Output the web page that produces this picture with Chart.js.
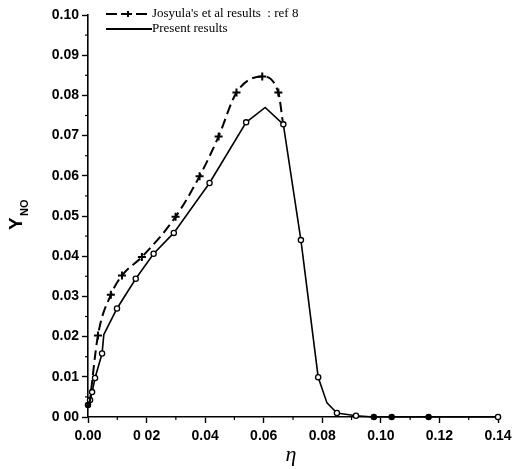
<!DOCTYPE html>
<html>
<head>
<meta charset="utf-8">
<script src="https://cdn.jsdelivr.net/npm/chart.js@4"></script>
<style>
  html, body { margin: 0; padding: 0; background: #fff; }
  #wrap { width: 514px; height: 469px; position: relative; }
</style>
</head>
<body>
<div id="wrap"><canvas id="chart"></canvas></div>
<script>
// values
const josyulaEta = [0.0005, 0.0034, 0.0078, 0.0116, 0.0184, 0.0299, 0.0381, 0.0446, 0.0507, 0.0595, 0.0650, 0.0665];
const josyulaY   = [0.0030, 0.0203, 0.0304, 0.0352, 0.0398, 0.0498, 0.0599, 0.0698, 0.0807, 0.0847, 0.0807, 0.0735];
const josyulaMarked = [1, 2, 3, 4, 5, 6, 7, 8, 9, 10];

const presentEta = [0.0000, 0.0007, 0.0014, 0.0024, 0.0048, 0.0054, 0.0099, 0.0163, 0.0224, 0.0293, 0.0415, 0.0540, 0.0605, 0.0667, 0.0727, 0.0786, 0.0816, 0.0850, 0.0915, 0.0976, 0.1037, 0.1163, 0.1400];
const presentY   = [0.0030, 0.0042, 0.0062, 0.0097, 0.0158, 0.0205, 0.0270, 0.0344, 0.0406, 0.0458, 0.0582, 0.0733, 0.0770, 0.0728, 0.0440, 0.0099, 0.0035, 0.0010, 0.0003, 0.0000, 0.0000, 0.0000, 0.0000];
const presentMarked = [1, 2, 3, 4, 6, 7, 8, 9, 10, 11, 13, 14, 15, 17, 18, 19, 20, 21, 22];
const presentFilled = [0, 19, 20, 21];

const xTicks = [0, 0.02, 0.04, 0.06, 0.08, 0.10, 0.12, 0.14];
const yTicks = [0, 0.01, 0.02, 0.03, 0.04, 0.05, 0.06, 0.07, 0.08, 0.09, 0.10];

const tickFont = { family: 'Liberation Sans', size: 14, weight: 'bold' };

function pts(xs, ys) { return xs.map((x, i) => ({ x: x, y: ys[i] })); }

const extras = {
    id: 'extras',
    afterDraw(chart) {
        const ctx = chart.ctx;
        const xs = chart.scales.x, ys = chart.scales.y;
        const x0 = xs.left, y0 = ys.bottom;
        ctx.save();
        ctx.strokeStyle = '#000';
        ctx.lineWidth = 1.2;
        // minor ticks
        for (let i = 0; i < xTicks.length - 1; i++) {
            const px = xs.getPixelForValue((xTicks[i] + xTicks[i + 1]) / 2);
            ctx.beginPath(); ctx.moveTo(px, y0); ctx.lineTo(px, y0 + 3); ctx.stroke();
        }
        for (let i = 0; i < yTicks.length - 1; i++) {
            const py = ys.getPixelForValue((yTicks[i] + yTicks[i + 1]) / 2);
            ctx.beginPath(); ctx.moveTo(x0, py); ctx.lineTo(x0 - 3, py); ctx.stroke();
        }
        // axis titles
        ctx.fillStyle = '#000';
        ctx.font = 'italic 22px "Liberation Serif"';
        ctx.textAlign = 'center';
        ctx.textBaseline = 'middle';
        ctx.fillText('η', (xs.left + xs.right) / 2 - 2, 455);

        ctx.translate(22, 218);
        ctx.rotate(-Math.PI / 2);
        ctx.textAlign = 'left';
        ctx.textBaseline = 'alphabetic';
        ctx.font = 'bold 19px "Liberation Sans"';
        ctx.fillText('Y', -12, 0);
        ctx.font = 'bold 11px "Liberation Sans"';
        ctx.fillText('NO', 2, 6);
        ctx.setTransform(1, 0, 0, 1, 0, 0);

        // legend
        ctx.font = '13px "Liberation Serif"';
        ctx.textBaseline = 'middle';
        ctx.textAlign = 'left';
        const lx = 106;
        ctx.lineWidth = 2;
        ctx.setLineDash([11, 4]);
        ctx.beginPath(); ctx.moveTo(lx, 14); ctx.lineTo(lx + 44, 14); ctx.stroke();
        ctx.setLineDash([]);
        ctx.beginPath();
        ctx.moveTo(lx + 19, 14); ctx.lineTo(lx + 25, 14);
        ctx.moveTo(lx + 22, 11); ctx.lineTo(lx + 22, 17);
        ctx.stroke();
        ctx.fillText(chart.data.datasets[0].label, lx + 46, 14);
        ctx.beginPath(); ctx.moveTo(lx, 29); ctx.lineTo(lx + 46, 29); ctx.stroke();
        ctx.fillText(chart.data.datasets[1].label, lx + 46, 29);
        ctx.restore();
    }
};

new Chart(document.getElementById('chart'), {
    type: 'line',
    data: {
        datasets: [
            {
                label: "Josyula's et al results  : ref 8",
                data: pts(josyulaEta, josyulaY),
                borderColor: '#000',
                borderWidth: 2,
                borderDash: [10, 5],
                tension: 0.4,
                cubicInterpolationMode: 'monotone',
                pointStyle: 'cross',
                pointRadius: josyulaEta.map((_, i) => josyulaMarked.includes(i) ? 4 : 0),
                pointBorderWidth: 2,
                pointBorderColor: '#000',
                clip: false
            },
            {
                label: 'Present results',
                data: pts(presentEta, presentY),
                borderColor: '#000',
                borderWidth: 1.6,
                tension: 0,
                pointStyle: 'circle',
                pointRadius: presentEta.map((_, i) => (presentMarked.includes(i) || presentFilled.includes(i)) ? 2.6 : 0),
                pointBorderWidth: 1.3,
                pointBorderColor: '#000',
                pointBackgroundColor: presentEta.map((_, i) => presentFilled.includes(i) ? '#000' : '#fff'),
                clip: false
            }
        ]
    },
    options: {
        responsive: true,
        maintainAspectRatio: false,
        animation: false,
        layout: { padding: { top: 15, right: 16, left: 0, bottom: 0 } },
        plugins: { legend: { display: false }, tooltip: { enabled: false } },
        scales: {
            x: {
                type: 'linear', min: 0, max: 0.14,
                afterFit: (s) => { s.height = 52; s.paddingRight = 0; },
                afterBuildTicks: (s) => { s.ticks = xTicks.map(v => ({ value: v })); },
                border: { display: true, color: '#000', width: 1.6 },
                grid: { display: true, drawOnChartArea: false, tickLength: 6, tickColor: '#000', tickWidth: 1.4 },
                ticks: {
                    color: '#000', font: tickFont, padding: 5, maxRotation: 0,
                    callback: (v) => v === 0.02 ? '0 02' : v.toFixed(2)
                }
            },
            y: {
                type: 'linear', min: 0, max: 0.10,
                afterFit: (s) => { s.width = 88; },
                afterBuildTicks: (s) => { s.ticks = yTicks.map(v => ({ value: v })); },
                border: { display: true, color: '#000', width: 1.6 },
                grid: { display: true, drawOnChartArea: false, tickLength: 6, tickColor: '#000', tickWidth: 1.4 },
                ticks: {
                    color: '#000', font: tickFont, padding: 3,
                    callback: (v) => v === 0 ? '0 00' : v.toFixed(2)
                }
            }
        }
    },
    plugins: [extras]
});
</script>
</body>
</html>
